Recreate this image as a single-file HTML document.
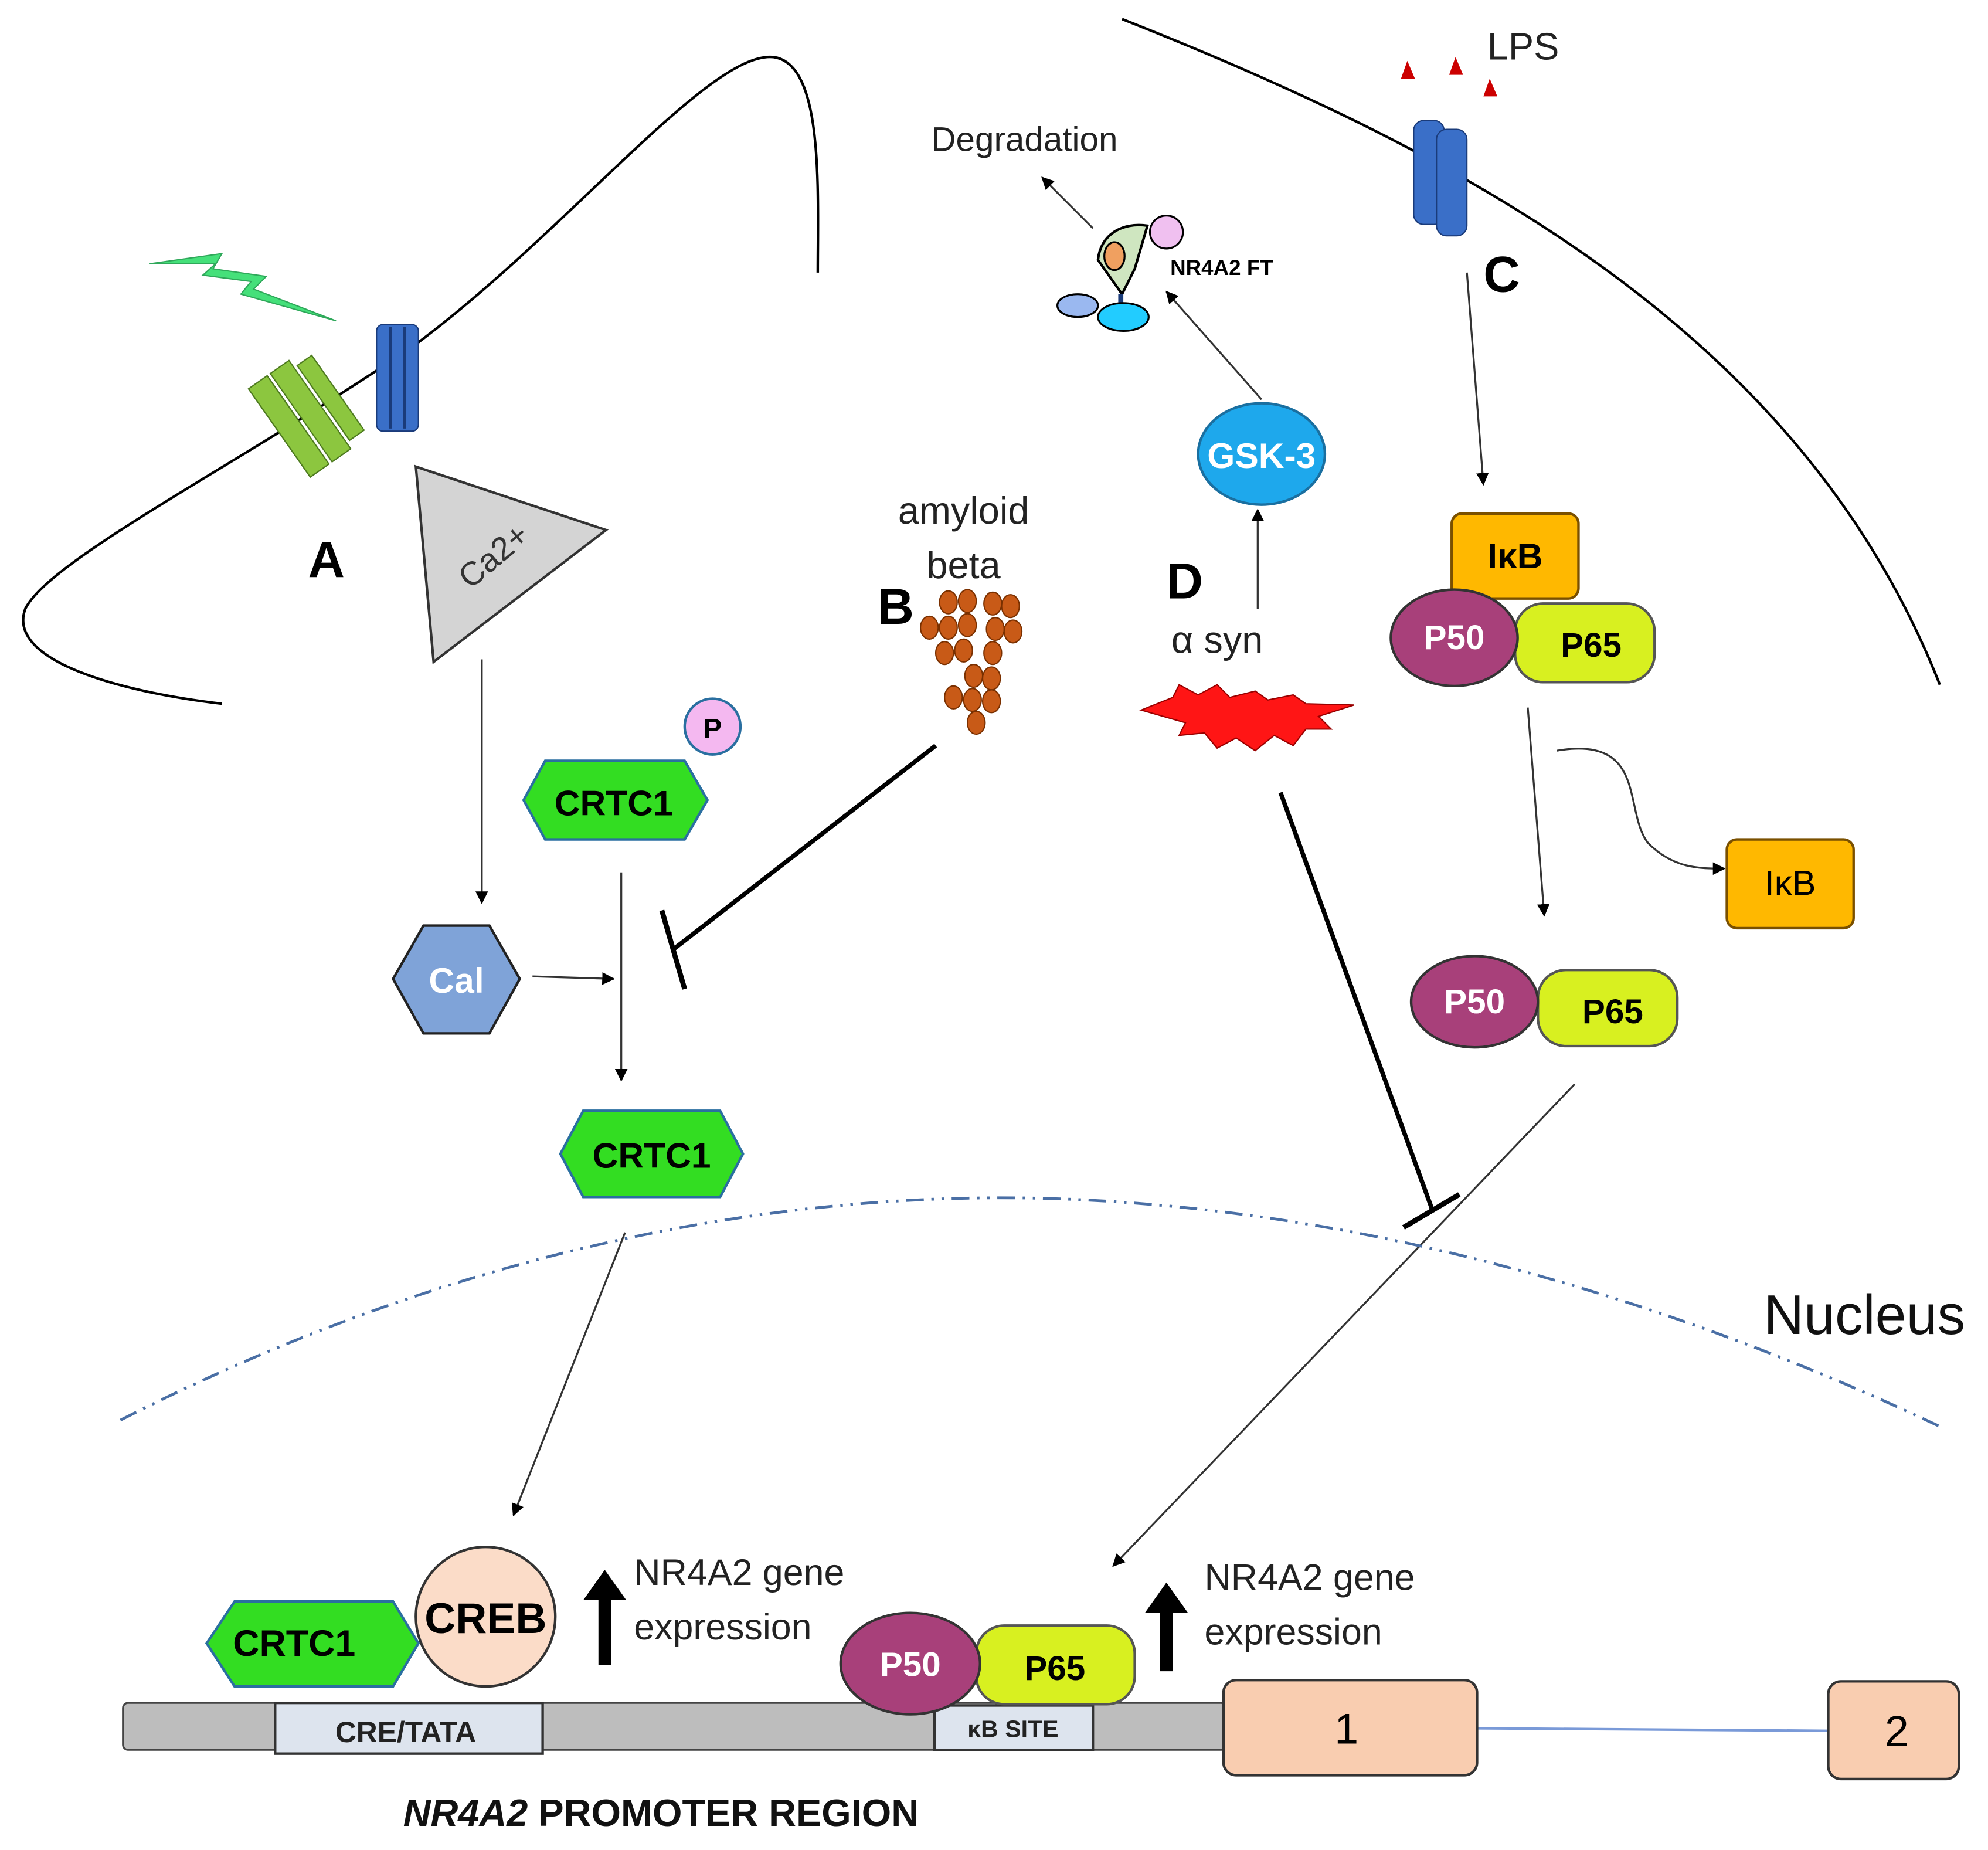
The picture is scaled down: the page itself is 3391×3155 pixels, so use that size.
<!DOCTYPE html>
<html><head><meta charset="utf-8"><style>
html,body{margin:0;padding:0;background:#fff}
svg{display:block}
text{font-family:"Liberation Sans","DejaVu Sans",sans-serif}
</style></head><body>
<svg width="3391" height="3155" viewBox="0 0 1568 1459" preserveAspectRatio="none" xmlns="http://www.w3.org/2000/svg">
<defs>
<marker id="ah" markerWidth="10" markerHeight="10" refX="9" refY="5" orient="auto" markerUnits="userSpaceOnUse"><path d="M0,0 L10,5 L0,10 z" fill="#000"/></marker>
</defs>
<rect width="1568" height="1459" fill="#fff"/>
<path d="M175,555 C90,545 5,520 20,480 C40,440 200,360 330,270 C450,180 560,40 610,45 C650,50 645,150 645,215" fill="none" stroke="#000" stroke-width="2"/>
<path d="M885,15 C1150,120 1420,260 1530,540" fill="none" stroke="#000" stroke-width="2"/>
<polygon points="118,208 175,200 168,212 210,218 200,228 265,253 190,232 198,222 160,217 170,208" fill="#45e07a" stroke="#2fa85a" stroke-width="1"/>
<g transform="rotate(-35 243 325)">
<rect x="215" y="283" width="18" height="85" fill="#8cc63f" stroke="#4d7a1f"/>
<rect x="236" y="283" width="18" height="85" fill="#8cc63f" stroke="#4d7a1f"/>
<rect x="257" y="290" width="14" height="72" fill="#8cc63f" stroke="#4d7a1f"/>
</g>
<rect x="297" y="256" width="33" height="84" rx="5" fill="#3a6fc8" stroke="#1a3b7a"/>
<line x1="308" y1="258" x2="308" y2="338" stroke="#1a3b7a" stroke-width="2"/>
<line x1="319" y1="258" x2="319" y2="338" stroke="#1a3b7a" stroke-width="2"/>
<text x="243" y="455" font-size="40" font-weight="bold">A</text>
<polygon points="328,368 478,418 342,522" fill="#d4d4d4" stroke="#333" stroke-width="2"/>
<text x="395" y="445" font-size="26" fill="#333" transform="rotate(-40 395 445)" text-anchor="middle">Ca2+</text>
<line x1="380" y1="520" x2="380" y2="712" stroke="#333" stroke-width="1.5" marker-end="url(#ah)"/>
<polygon points="430,600 540,600 558,631 540,662 430,662 413,631" fill="#33dd22" stroke="#2a6fa0" stroke-width="2"/>
<text x="484" y="643" font-size="28" font-weight="bold" text-anchor="middle">CRTC1</text>
<circle cx="562" cy="573" r="22" fill="#f4b8f0" stroke="#2a6fa0" stroke-width="2"/>
<text x="562" y="582" font-size="22" font-weight="bold" text-anchor="middle">P</text>
<line x1="490" y1="688" x2="490" y2="852" stroke="#333" stroke-width="1.5" marker-end="url(#ah)"/>
<polygon points="334,730 386,730 410,772 386,815 334,815 310,772" fill="#7fa3d8" stroke="#222" stroke-width="2"/>
<text x="360" y="783" font-size="28" font-weight="bold" fill="#fff" text-anchor="middle">Cal</text>
<line x1="420" y1="770" x2="484" y2="772" stroke="#333" stroke-width="1.5" marker-end="url(#ah)"/>
<line x1="738" y1="588" x2="532" y2="748" stroke="#000" stroke-width="3.5"/>
<line x1="522" y1="718" x2="540" y2="780" stroke="#000" stroke-width="4"/>
<text x="760" y="413" font-size="30" text-anchor="middle" fill="#222">amyloid</text>
<text x="760" y="456" font-size="30" text-anchor="middle" fill="#222">beta</text>
<text x="692" y="492" font-size="40" font-weight="bold">B</text>
<g fill="#c85a17" stroke="#7a3000" stroke-width="1">
<ellipse cx="748" cy="475" rx="7" ry="9"/><ellipse cx="763" cy="474" rx="7" ry="9"/><ellipse cx="783" cy="476" rx="7" ry="9"/><ellipse cx="797" cy="478" rx="7" ry="9"/>
<ellipse cx="733" cy="495" rx="7" ry="9"/><ellipse cx="748" cy="495" rx="7" ry="9"/><ellipse cx="763" cy="493" rx="7" ry="9"/><ellipse cx="785" cy="496" rx="7" ry="9"/><ellipse cx="799" cy="498" rx="7" ry="9"/>
<ellipse cx="745" cy="515" rx="7" ry="9"/><ellipse cx="760" cy="513" rx="7" ry="9"/><ellipse cx="783" cy="515" rx="7" ry="9"/>
<ellipse cx="768" cy="533" rx="7" ry="9"/><ellipse cx="782" cy="535" rx="7" ry="9"/>
<ellipse cx="752" cy="550" rx="7" ry="9"/><ellipse cx="767" cy="552" rx="7" ry="9"/><ellipse cx="782" cy="553" rx="7" ry="9"/>
<ellipse cx="770" cy="570" rx="7" ry="9"/>
</g>
<polygon points="460,876 568,876 586,910 568,944 460,944 442,910" fill="#33dd22" stroke="#2a6fa0" stroke-width="2"/>
<text x="514" y="921" font-size="28" font-weight="bold" text-anchor="middle">CRTC1</text>
<line x1="493" y1="972" x2="405" y2="1195" stroke="#333" stroke-width="1.5" marker-end="url(#ah)"/>
<text x="808" y="119" font-size="27" text-anchor="middle" fill="#222">Degradation</text>
<line x1="862" y1="180" x2="822" y2="140" stroke="#333" stroke-width="1.5" marker-end="url(#ah)"/>
<path d="M866,205 C868,185 885,175 905,178 L895,212 L885,232 Z" fill="#cfe6c0" stroke="#000" stroke-width="2"/>
<ellipse cx="879" cy="202" rx="8" ry="11" fill="#f0a060" stroke="#000" stroke-width="1.5"/>
<circle cx="920" cy="183" r="13" fill="#f0c0f0" stroke="#000" stroke-width="1.5"/>
<line x1="884" y1="232" x2="884" y2="248" stroke="#1a3b7a" stroke-width="4"/>
<ellipse cx="850" cy="241" rx="16" ry="9" fill="#9ab8f0" stroke="#000" stroke-width="1.5"/>
<ellipse cx="886" cy="250" rx="20" ry="11" fill="#22ccff" stroke="#000" stroke-width="1.5"/>
<text x="923" y="217" font-size="17" font-weight="bold">NR4A2 FT</text>
<line x1="995" y1="315" x2="920" y2="230" stroke="#333" stroke-width="1.5" marker-end="url(#ah)"/>
<ellipse cx="995" cy="358" rx="50" ry="40" fill="#1ea8ec" stroke="#1a6fa0" stroke-width="2"/>
<text x="995" y="369" font-size="28" font-weight="bold" fill="#fff" text-anchor="middle">GSK-3</text>
<line x1="992" y1="480" x2="992" y2="402" stroke="#333" stroke-width="1.5" marker-end="url(#ah)"/>
<text x="920" y="472" font-size="40" font-weight="bold">D</text>
<text x="960" y="515" font-size="30" text-anchor="middle" fill="#222">α syn</text>
<polygon points="900,560 925,550 930,540 945,548 960,540 970,550 990,545 1000,552 1020,548 1030,555 1068,556 1040,565 1050,575 1030,575 1020,588 1005,580 990,592 975,582 960,590 950,578 930,580 935,570" fill="#ff1515" stroke="#990000" stroke-width="1"/>
<line x1="1010" y1="625" x2="1130" y2="955" stroke="#000" stroke-width="3.5"/>
<line x1="1107" y1="968" x2="1151" y2="942" stroke="#000" stroke-width="4"/>
<polygon points="1110,48 1105,62 1116,62" fill="#cc0000"/>
<polygon points="1148,45 1143,59 1154,59" fill="#cc0000"/>
<polygon points="1175,62 1170,76 1181,76" fill="#cc0000"/>
<text x="1173" y="47" font-size="30" fill="#222">LPS</text>
<rect x="1115" y="95" width="24" height="82" rx="8" fill="#3a6fc8" stroke="#1a3b7a"/>
<rect x="1133" y="102" width="24" height="84" rx="8" fill="#3a6fc8" stroke="#1a3b7a"/>
<text x="1170" y="230" font-size="40" font-weight="bold">C</text>
<line x1="1157" y1="215" x2="1170" y2="382" stroke="#333" stroke-width="1.5" marker-end="url(#ah)"/>
<rect x="1145" y="405" width="100" height="67" rx="8" fill="#ffb800" stroke="#7a5000" stroke-width="2"/>
<text x="1195" y="448" font-size="28" font-weight="bold" text-anchor="middle">IκB</text>
<rect x="1195" y="476" width="110" height="62" rx="22" fill="#d8f020" stroke="#555" stroke-width="2"/>
<text x="1255" y="518" font-size="27" font-weight="bold" text-anchor="middle">P65</text>
<ellipse cx="1147" cy="503" rx="50" ry="38" fill="#a8407a" stroke="#333" stroke-width="2"/>
<text x="1147" y="512" font-size="27" font-weight="bold" fill="#fff" text-anchor="middle">P50</text>
<line x1="1205" y1="558" x2="1218" y2="722" stroke="#333" stroke-width="1.5" marker-end="url(#ah)"/>
<path d="M1228,592 C1300,580 1280,640 1300,665 C1320,685 1340,685 1360,685" fill="none" stroke="#333" stroke-width="1.5" marker-end="url(#ah)"/>
<rect x="1362" y="662" width="100" height="70" rx="8" fill="#ffb800" stroke="#7a5000" stroke-width="2"/>
<text x="1412" y="706" font-size="28" text-anchor="middle">IκB</text>
<rect x="1213" y="765" width="110" height="60" rx="22" fill="#d8f020" stroke="#555" stroke-width="2"/>
<text x="1272" y="807" font-size="27" font-weight="bold" text-anchor="middle">P65</text>
<ellipse cx="1163" cy="790" rx="50" ry="36" fill="#a8407a" stroke="#333" stroke-width="2"/>
<text x="1163" y="799" font-size="27" font-weight="bold" fill="#fff" text-anchor="middle">P50</text>
<line x1="1242" y1="855" x2="878" y2="1235" stroke="#333" stroke-width="1.5" marker-end="url(#ah)"/>
<path d="M95,1120 C350,990 600,940 820,945 C1100,952 1350,1040 1530,1125" fill="none" stroke="#4a6fa5" stroke-width="2.2" stroke-dasharray="14,6,2,6,2,6"/>
<text x="1550" y="1052" font-size="44" text-anchor="end" fill="#111">Nucleus</text>
<rect x="97" y="1343" width="870" height="37" rx="4" fill="#bdbdbd" stroke="#444" stroke-width="1.5"/>
<rect x="217" y="1343" width="211" height="40" fill="#dde4ee" stroke="#333" stroke-width="2"/>
<text x="320" y="1374" font-size="23" font-weight="bold" text-anchor="middle" fill="#222">CRE/TATA</text>
<rect x="737" y="1345" width="125" height="35" fill="#dde4ee" stroke="#333" stroke-width="2"/>
<text x="799" y="1370" font-size="19" font-weight="bold" text-anchor="middle" fill="#222">κB SITE</text>
<line x1="1165" y1="1363" x2="1442" y2="1365" stroke="#7a9ad8" stroke-width="2"/>
<rect x="965" y="1325" width="200" height="75" rx="10" fill="#f9cdb0" stroke="#333" stroke-width="2"/>
<text x="1062" y="1375" font-size="34" text-anchor="middle">1</text>
<rect x="1442" y="1326" width="103" height="77" rx="10" fill="#f9cdb0" stroke="#333" stroke-width="2"/>
<text x="1496" y="1377" font-size="34" text-anchor="middle">2</text>
<polygon points="185,1263 310,1263 330,1296 310,1330 185,1330 163,1296" fill="#33dd22" stroke="#2a6fa0" stroke-width="2"/>
<text x="232" y="1306" font-size="29" font-weight="bold" text-anchor="middle">CRTC1</text>
<circle cx="383" cy="1275" r="55" fill="#fbdcc8" stroke="#333" stroke-width="2"/>
<text x="383" y="1288" font-size="34" font-weight="bold" text-anchor="middle">CREB</text>
<polygon points="477,1238 494,1262 482,1262 482,1313 472,1313 472,1262 460,1262" fill="#000"/>
<text x="500" y="1250" font-size="29" fill="#222">NR4A2 gene</text>
<text x="500" y="1293" font-size="29" fill="#222">expression</text>
<rect x="770" y="1282" width="125" height="62" rx="22" fill="#d8f020" stroke="#555" stroke-width="2"/>
<text x="832" y="1325" font-size="27" font-weight="bold" text-anchor="middle">P65</text>
<ellipse cx="718" cy="1312" rx="55" ry="40" fill="#a8407a" stroke="#333" stroke-width="2"/>
<text x="718" y="1322" font-size="27" font-weight="bold" fill="#fff" text-anchor="middle">P50</text>
<polygon points="920,1248 937,1272 925,1272 925,1318 915,1318 915,1272 903,1272" fill="#000"/>
<text x="950" y="1254" font-size="29" fill="#222">NR4A2 gene</text>
<text x="950" y="1297" font-size="29" fill="#222">expression</text>
<text x="318" y="1440" font-size="30" font-weight="bold" fill="#111"><tspan font-style="italic">NR4A2</tspan> PROMOTER REGION</text>
</svg>
</body></html>
